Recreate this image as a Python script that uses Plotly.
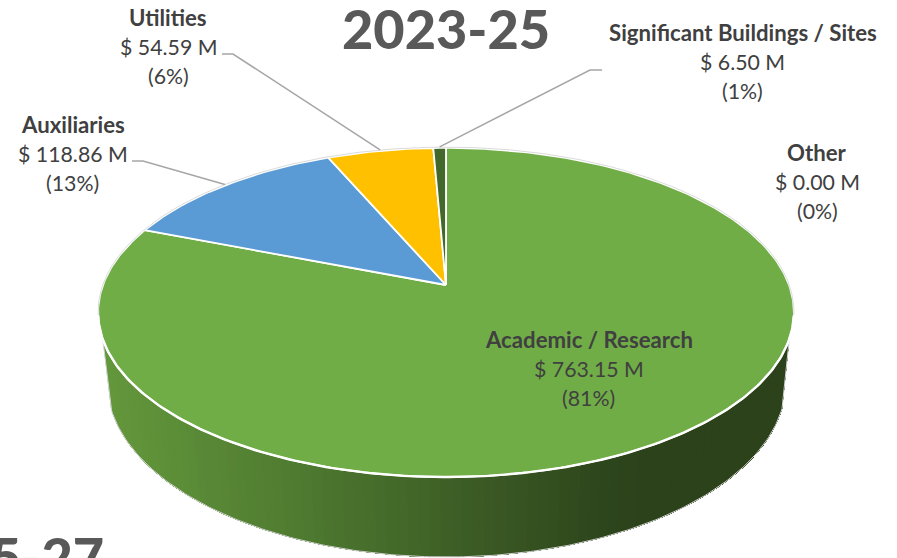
import numpy as np
import plotly.graph_objects as go

# ---- data ----
categories = ["Academic / Research", "Other", "Auxiliaries", "Utilities", "Significant Buildings / Sites"]
values_m = [763.15, 0.00, 118.86, 54.59, 6.50]
percents = ["81%", "0%", "13%", "6%", "1%"]
slice_colors = ["#70AD47", "#FFFFFF", "#5B9BD5", "#FFC000", "#43682B"]
title_text = "2023-25"
clipped_title_text = "2025-27"

W, H = 897, 558
# perspective projection of the pie's disc (pixel scale of the axes)
CX, APEX_Y = 446.0, 285.0
A, B, K = 343.0, 160.0, 0.167
# side wall: upper and lower outline ellipses
TOP_CY, TOP_RX, TOP_RY = 312.5, 347.5, 164.5
LOW_CX, LOW_CY, LOW_RX, LOW_RY = 446.5, 382.0, 339.5, 175.0
TEXT = "#404040"
FONT = "Lato"


def proj(theta):
    X, Y = np.sin(theta), np.cos(theta)
    w = 1 + K * Y
    return CX + A * X / w, APEX_Y - B * Y / w


def wall_color(x):
    stops_x = [100, 300, 450, 600, 650]
    r = np.interp(x, stops_x, [100, 78, 62, 46, 44])
    g = np.interp(x, stops_x, [152, 122, 95, 70, 66])
    b = np.interp(x, stops_x, [60, 48, 38, 28, 27])
    return f"rgb({r:.0f},{g:.0f},{b:.0f})"


fig = go.Figure()

# side wall, drawn as overlapping strips so that it can carry a gradient without seams
u0 = np.arcsin(25 / TOP_RY)
us = np.linspace(u0, np.pi - u0, 90)
for i in range(len(us) - 1):
    u1, u2 = us[i], us[-1]
    u_mid = (us[i] + us[i + 1]) / 2
    seg = np.linspace(u1, u2, max(2, len(us) - i))
    xs = list(CX - TOP_RX * np.cos(seg)) + list(LOW_CX - LOW_RX * np.cos(seg[::-1]))
    ys = list(TOP_CY + TOP_RY * np.sin(seg)) + list(LOW_CY + LOW_RY * np.sin(seg[::-1]))
    col = wall_color(CX - TOP_RX * np.cos(u_mid))
    fig.add_trace(go.Scatter(x=xs, y=ys, mode="none", fill="toself", fillcolor=col,
                             hoverinfo="skip", showlegend=False))

# wall outline
uo = np.linspace(u0, np.pi - u0, 200)
ox = [CX - TOP_RX * np.cos(u0)] + list(LOW_CX - LOW_RX * np.cos(uo)) + [CX - TOP_RX * np.cos(np.pi - u0)]
oy = [TOP_CY + TOP_RY * np.sin(u0)] + list(LOW_CY + LOW_RY * np.sin(uo)) + [TOP_CY + TOP_RY * np.sin(u0)]
fig.add_trace(go.Scatter(x=ox, y=oy, mode="lines", line=dict(color="#D4D4D4", width=1),
                         hoverinfo="skip", showlegend=False))

# disc slices from the values, clockwise from 12 o'clock
total = sum(values_m)
start = 0.0
mids = {}
for name, v, c in zip(categories, values_m, slice_colors):
    sweep = 2 * np.pi * v / total
    mids[name] = start + sweep / 2
    if v > 0:
        t = np.linspace(start, start + sweep, max(3, int(sweep * 60)))
        px, py = proj(t)
        fig.add_trace(go.Scatter(x=[CX, *px, CX], y=[APEX_Y, *py, APEX_Y], mode="lines", fill="toself",
                                 fillcolor=c, line=dict(color="#FFFFFF", width=1.8),
                                 hoverinfo="skip", showlegend=False))
    start += sweep

# faint outline round the far side of the disc
t = np.linspace(-np.pi * 0.56, np.pi * 0.56, 200)
px, py = proj(t)
fig.add_trace(go.Scatter(x=px, y=py - 0.8, mode="lines", line=dict(color="#D0D0D0", width=0.8),
                         hoverinfo="skip", showlegend=False))
# brighter rim along the near side
t = np.linspace(np.pi * 0.56, np.pi * 1.44, 200)
px, py = proj(t)
fig.add_trace(go.Scatter(x=px, y=py, mode="lines", line=dict(color="#FFFFFF", width=2.4),
                         hoverinfo="skip", showlegend=False))

# leader lines: elbow next to the label, end on the slice rim
leaders = {
    "Auxiliaries": ([132, 143], [161, 161]),
    "Utilities": ([222, 233], [54, 54]),
    "Significant Buildings / Sites": ([602, 590], [70, 70]),
}
for name, (lx, ly) in leaders.items():
    ex, ey = proj(mids[name])
    fig.add_trace(go.Scatter(x=[*lx, float(ex)], y=[*ly, float(ey) - 1], mode="lines",
                             line=dict(color="#A6A6A6", width=1.5), hoverinfo="skip", showlegend=False))

# labels: name / amount / percentage
label_pos = {
    "Academic / Research": (588.5, 339),
    "Other": (817, 152),
    "Auxiliaries": (72.5, 124),
    "Utilities": (168, 17),
    "Significant Buildings / Sites": (742.5, 32),
}
LINE = 29.5
ann = []
for name, v, p in zip(categories, values_m, percents):
    x, y = label_pos[name]
    for i, (txt, bold) in enumerate([(name, True), (f"$ {v:.2f} M", False), (f"({p})", False)]):
        ann.append(dict(x=x, y=y + i * LINE, xref="x", yref="y", showarrow=False, xanchor="center", yanchor="middle",
                        text=txt,
                        font=dict(family=FONT, size=22.2 if bold else 21.3, color=TEXT, weight=700 if bold else 400)))
ann.append(dict(x=445.5, y=28, xref="x", yref="y", showarrow=False, xanchor="center", yanchor="middle",
                text=title_text, font=dict(family=FONT, size=54, color="#595959", weight=900)))
ann.append(dict(x=106, y=522, xref="x", yref="y", showarrow=False, xanchor="right", yanchor="top",
                text=clipped_title_text, font=dict(family=FONT, size=54, color="#595959", weight=900)))

fig.update_layout(
    width=W, height=H, autosize=False, margin=dict(l=0, r=0, t=0, b=0),
    paper_bgcolor="white", plot_bgcolor="white", showlegend=False, annotations=ann,
    xaxis=dict(range=[0, W], visible=False, fixedrange=True),
    yaxis=dict(range=[H, 0], visible=False, fixedrange=True),
)
fig.write_html("out.html", config={"displayModeBar": False},
               post_script="document.body.style.margin='0';document.documentElement.style.overflow='hidden';")
